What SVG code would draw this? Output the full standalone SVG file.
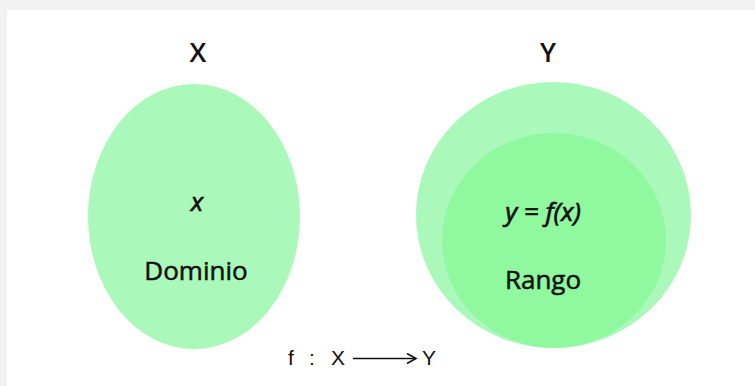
<svg xmlns="http://www.w3.org/2000/svg" width="755" height="386" viewBox="0 0 755 386">
<defs>
<style>
.t{font-family:"Open Sans","Noto Sans","DejaVu Sans",sans-serif;fill:#111;text-anchor:middle}
.title{font-size:27px;font-weight:600}
.lbl{font-size:26px;font-weight:400;stroke:#111;stroke-width:0.55px}
.math{font-size:26px;font-weight:400;font-style:italic;stroke:#111;stroke-width:0.7px}
.f{font-family:"Liberation Sans",Arial,sans-serif;font-size:21px;fill:#111}
.outer{fill:#abf9ba}
.inner{fill:#90f9a0}
</style>
<marker id="ah" markerWidth="12" markerHeight="12" refX="10" refY="6" orient="auto" markerUnits="userSpaceOnUse">
<path d="M1,1 L10,6 L1,11" fill="none" stroke="#111" stroke-width="1.6"/>
</marker>
</defs>
<rect x="0" y="0" width="755" height="386" fill="#f2f2f2"/>
<rect x="7" y="10" width="748" height="376" fill="#ffffff"/>
<g id="X">
<text class="t title" x="198" y="62">X</text>
<ellipse class="outer" cx="194" cy="216.5" rx="106" ry="132.5"/>
<text class="t math" x="197" y="211">x</text>
<text class="t lbl" x="196" y="280">Dominio</text>
</g>
<g id="Y">
<text class="t title" x="548" y="62">Y</text>
<ellipse class="outer" cx="553.5" cy="215" rx="137.5" ry="133"/>
<ellipse class="inner" cx="554" cy="240.5" rx="112" ry="107.5"/>
<text class="t math" x="543" y="221">y = f(x)</text>
<text class="t lbl" x="543" y="289">Rango</text>
</g>
<g id="mapping">
<text class="f" x="288" y="365">f</text>
<text class="f" x="309" y="365">:</text>
<text class="f" x="331" y="365">X</text>
<text class="f" x="422" y="365">Y</text>
</g>
<g id="connectors">
<line x1="353" y1="358.5" x2="416" y2="358.5" stroke="#111" stroke-width="1.6" marker-end="url(#ah)"/>
</g>
</svg>
